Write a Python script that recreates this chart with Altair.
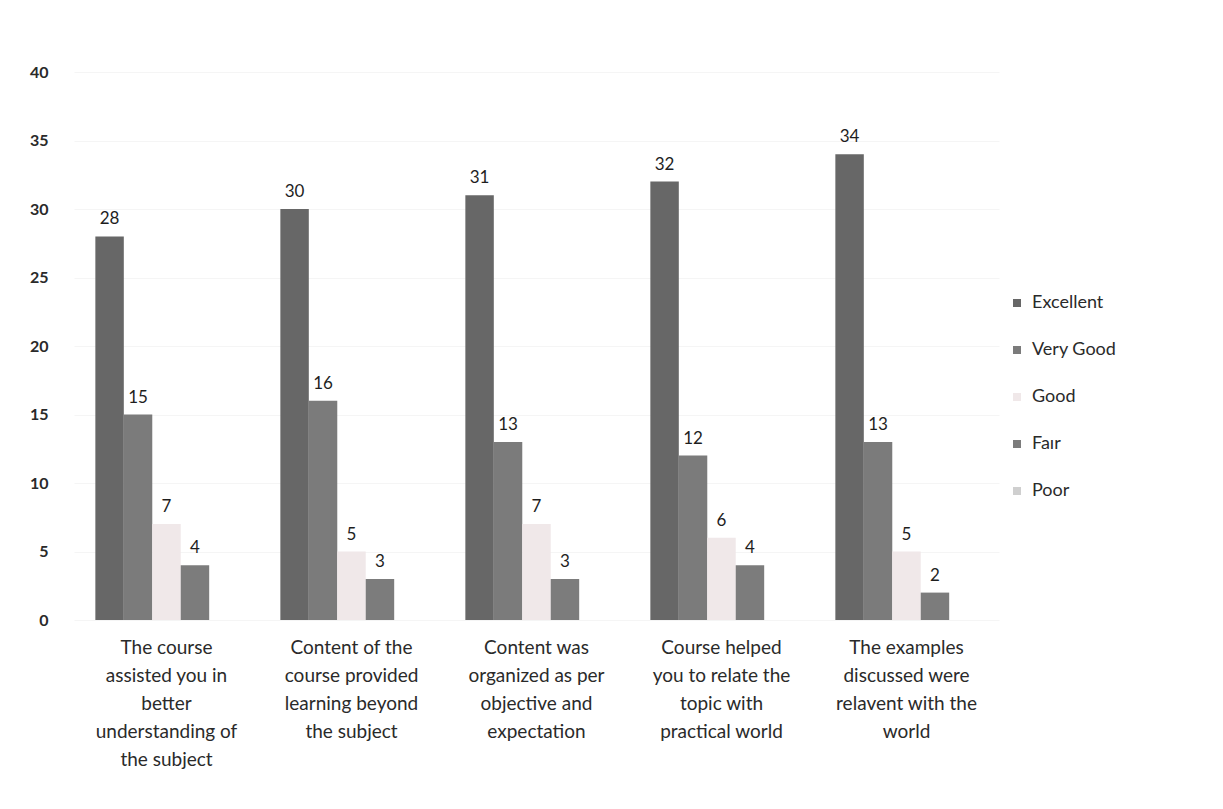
import altair as alt
import pandas as pd

categories = [
    "The course|assisted you in|better|understanding of|the subject",
    "Content of the|course provided|learning beyond|the subject",
    "Content was|organized as per|objective and|expectation",
    "Course helped|you to relate the|topic with|practical world",
    "The examples|discussed were|relavent with the|world",
]
series = ["Excellent", "Very Good", "Good", "Fair", "Poor"]
excellent = [28, 30, 31, 32, 34]
very_good = [15, 16, 13, 12, 13]
good = [7, 5, 7, 6, 5]
fair = [4, 3, 3, 4, 2]
poor = [None, None, None, None, None]
colors = ["#676767", "#7b7b7b", "#f0e8e9", "#7c7c7c", "#cfcfcf"]

rows = []
for s, vals in zip(series, [excellent, very_good, good, fair, poor]):
    for c, v in zip(categories, vals):
        rows.append({"category": c, "series": s, "value": v})
df = pd.DataFrame(rows)

FONT = "Lato"

x = alt.X(
    "category:N",
    sort=categories,
    scale=alt.Scale(paddingInner=0.2308, paddingOuter=0.1154),
    axis=alt.Axis(
        title=None,
        labelAngle=0,
        labelExpr="split(datum.label, '|')",
        labelFontSize=19,
        labelLineHeight=28,
        labelColor="#2a2a2a",
        labelPadding=18,
        labelBaseline="top",
        domain=False,
        ticks=False,
        grid=False,
        labelFont=FONT,
    ),
)
xo = alt.XOffset("series:N", sort=series, scale=alt.Scale(domain=series, paddingInner=0, paddingOuter=0))
y = alt.Y(
    "value:Q",
    scale=alt.Scale(domain=[0, 40]),
    axis=alt.Axis(
        title=None,
        values=[0, 5, 10, 15, 20, 25, 30, 35, 40],
        labelFontSize=16,
        labelColor="#2a2a2a",
        labelPadding=26,
        domain=False,
        ticks=False,
        grid=True,
        gridColor="#f5f5f5",
        labelFont=FONT,
        labelFontWeight="bold",
    ),
)
color = alt.Color(
    "series:N",
    sort=series,
    scale=alt.Scale(domain=series, range=colors),
    legend=alt.Legend(
        title=None,
        orient="none",
        legendX=934,
        legendY=222,
        symbolType="square",
        symbolSize=64,
        symbolStrokeWidth=0,
        labelFontSize=18,
        labelColor="#2a2a2a",
        labelFont=FONT,
        rowPadding=29,
        labelOffset=6,
        labelExpr="datum.label == 'Fair' ? 'Fa\u0131r' : datum.label",
    ),
)

base = alt.Chart(df).transform_filter("datum.value != null")

bars = base.mark_bar(opacity=1).encode(x=x, xOffset=xo, y=y, color=color)
labels = base.mark_text(
    baseline="bottom", dy=-8, fontSize=17, color="#1e1e1e", font=FONT
).encode(x=x, xOffset=xo, y=y, text="value:Q")

chart = (
    alt.layer(bars, labels)
    .properties(
        width=925,
        height=548,
        autosize=alt.AutoSizeParams(type="none"),
        padding={"left": 66, "top": 64, "right": 200, "bottom": 170},
        view=alt.ViewBackground(stroke="transparent", strokeWidth=0),
    )
    .configure_view(strokeWidth=0, stroke="transparent")
    .configure_axis(gridColor="#f5f5f5")
    .configure_axisX(grid=False)
    .configure(background="white")
)

chart.save("out.html", embed_options={"renderer": "svg", "actions": False})
